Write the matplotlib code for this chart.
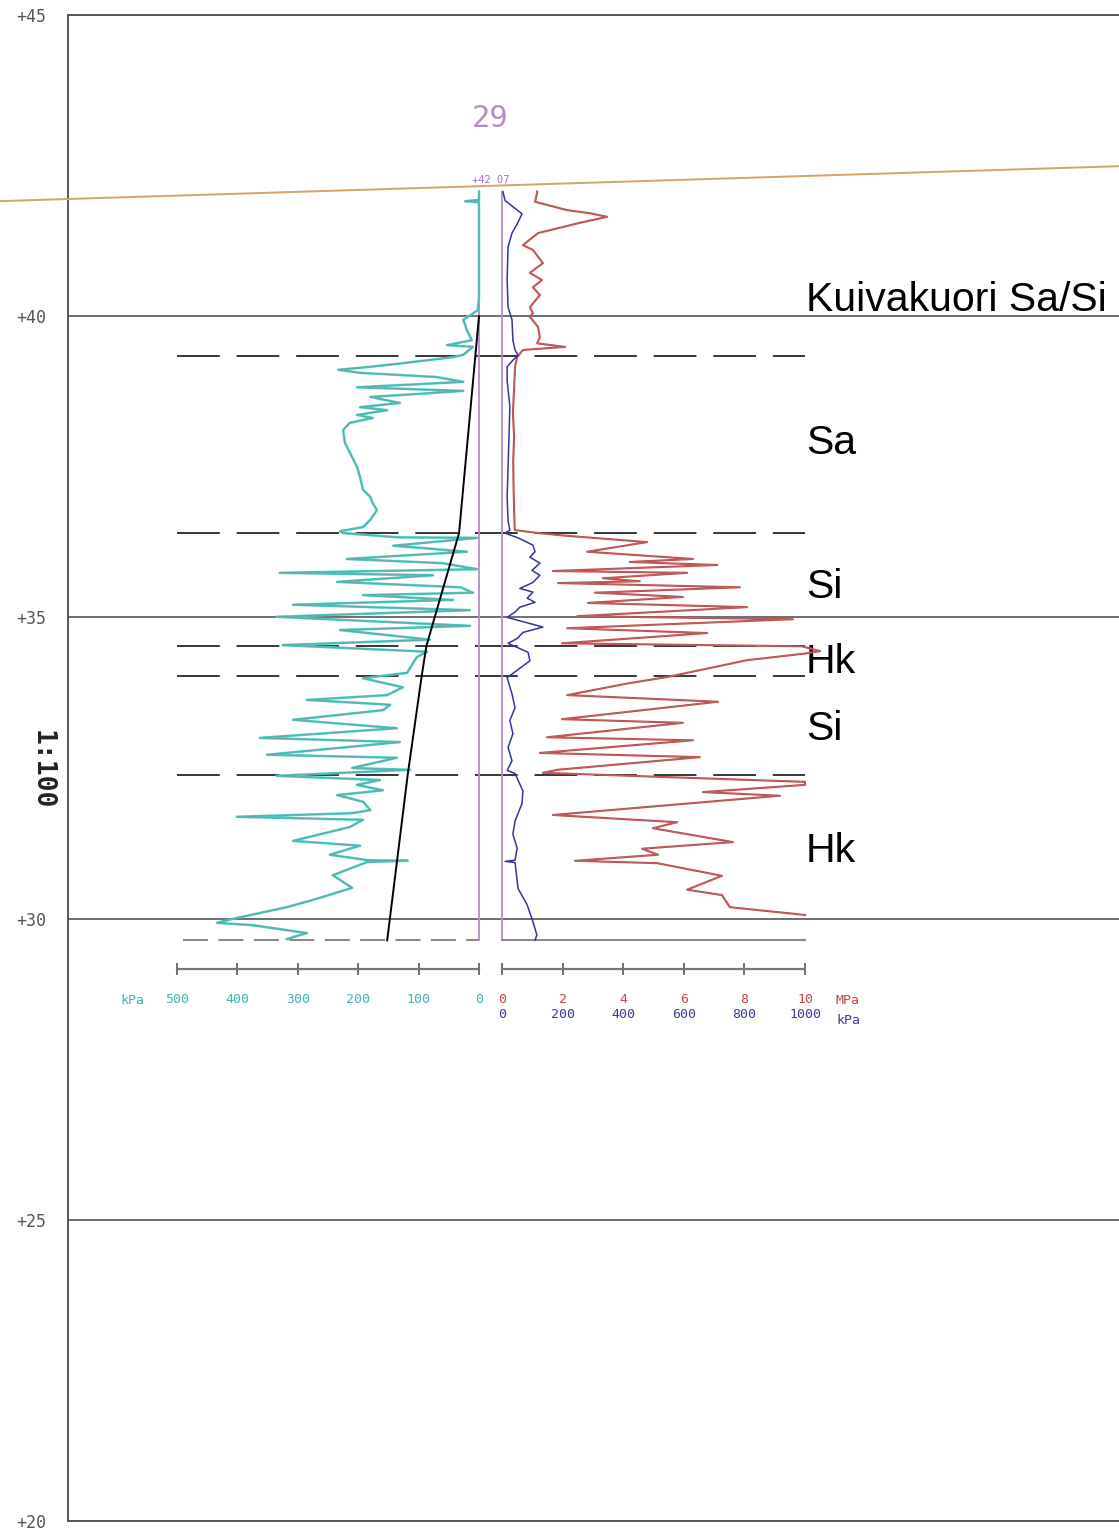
import matplotlib
matplotlib.use("Agg")
import matplotlib.pyplot as plt

# ---------------- data ----------------
site_id = "29"
ground_level = 42.07          # sounding start elevation
sounding_bottom = 29.64       # sounding end elevation
ground_x = [-1.13, 17.45]     # m along section
ground_z = [41.91, 42.49]
grid_levels = [25, 30, 35, 40]
y_ticks = [20, 25, 30, 35, 40, 45]
layer_bounds = [39.34, 36.40, 34.53, 34.02, 32.39]
layer_names = ["Kuivakuori Sa/Si", "Sa", "Si", "Hk", "Si", "Hk"]
layer_label_z = [40.27, 37.90, 35.50, 34.26, 33.15, 31.12]

cyan_ticks = [500, 400, 300, 200, 100, 0]
red_ticks = [0, 2, 4, 6, 8, 10]
blue_ticks = [0, 200, 400, 600, 800, 1000]

# in-situ stress line (kPa, cyan scale)
stress_z = [40.0, 36.40, 34.53, 34.02, 32.39, 29.64]
stress_kpa = [0, 33, 87, 95, 118, 152]

# cyan curve (kPa, plotted leftwards)
cyan_z = [42.07, 41.93, 41.91, 41.89, 40.30, 40.10, 39.94, 39.77, 39.60, 39.52, 39.49, 39.36,
          39.32, 39.22, 39.16, 39.11, 39.06, 38.99, 38.91, 38.82, 38.76, 38.69, 38.66, 38.56,
          38.49, 38.44, 38.36, 38.31, 38.23, 38.11, 37.90, 37.66, 37.50, 37.33, 37.12, 37.00,
          36.90, 36.78, 36.62, 36.50, 36.43, 36.40, 36.33, 36.32, 36.19, 36.09, 35.97, 35.90,
          35.80, 35.74, 35.70, 35.59, 35.50, 35.41, 35.37, 35.29, 35.21, 35.12, 35.01, 34.86,
          34.79, 34.63, 34.54, 34.43, 34.34, 34.08, 33.99, 33.84, 33.71, 33.63, 33.55, 33.46,
          33.30, 33.16, 33.00, 32.93, 32.72, 32.67, 32.50, 32.47, 32.37, 32.30, 32.22, 32.13,
          32.05, 31.94, 31.80, 31.75, 31.69, 31.64, 31.52, 31.29, 31.21, 31.06, 30.97, 30.96,
          30.94, 30.72, 30.51, 30.31, 30.19, 30.01, 29.93, 29.89, 29.76, 29.66]
cyan_kpa = [0, 0, 23, 0, 0, 2, 26, 20, 12, 53, 10, 26,
            43, 126, 180, 233, 197, 70, 26, 202, 26, 131, 180, 131,
            197, 152, 202, 176, 214, 225, 222, 210, 202, 197, 192, 180,
            176, 169, 180, 192, 230, 225, 136, 3, 142, 20, 219, 60,
            3, 330, 76, 235, 31, 10, 192, 43, 308, 15, 335, 15,
            230, 81, 325, 86, 103, 119, 192, 126, 152, 285, 147, 159,
            308, 136, 363, 131, 351, 136, 210, 114, 335, 164, 202, 159,
            235, 192, 180, 210, 401, 192, 214, 308, 197, 247, 185, 118,
            185, 242, 210, 275, 318, 401, 434, 374, 285, 318]

# red curve (MPa)
red_z = [42.07, 42.05, 41.90, 41.76, 41.71, 41.65, 41.55, 41.38, 41.18, 41.10, 40.88, 40.72,
         40.60, 40.48, 40.35, 40.15, 40.05, 39.99, 39.82, 39.65, 39.55, 39.49, 39.44, 39.32,
         39.16, 38.80, 38.40, 38.00, 37.60, 37.20, 36.80, 36.45, 36.40, 36.36, 36.25, 36.09,
         35.97, 35.92, 35.87, 35.77, 35.74, 35.65, 35.60, 35.57, 35.50, 35.41, 35.34, 35.24,
         35.17, 35.02, 34.97, 34.82, 34.74, 34.57, 34.52, 34.44, 34.40, 34.29, 34.01, 33.91,
         33.71, 33.60, 33.31, 33.25, 33.01, 32.96, 32.75, 32.68, 32.47, 32.42, 32.27, 32.22,
         32.10, 32.04, 31.72, 31.60, 31.50, 31.27, 31.16, 31.06, 30.96, 30.92, 30.71, 30.48,
         30.39, 30.19, 30.06]
red_mpa = [1.16, 1.16, 1.09, 2.15, 2.90, 3.47, 2.57, 1.19, 0.69, 1.02, 1.35, 0.92,
           1.32, 1.02, 1.25, 0.92, 1.02, 0.92, 1.19, 1.25, 1.16, 2.08, 0.69, 0.50,
           0.43, 0.40, 0.36, 0.40, 0.37, 0.38, 0.40, 0.42, 1.20, 2.00, 4.79, 2.81,
           6.30, 4.22, 7.10, 1.68, 6.11, 3.33, 4.55, 1.85, 7.85, 3.07, 5.97, 2.84,
           8.09, 2.48, 9.60, 2.15, 6.77, 1.98, 9.90, 10.50, 10.00, 8.09, 5.45, 4.22,
           2.15, 7.13, 1.98, 5.97, 1.49, 6.30, 1.25, 6.53, 1.82, 1.35, 10.0, 10.0,
           6.63, 9.17, 1.68, 5.78, 4.98, 7.62, 4.62, 5.15, 2.41, 5.12, 7.26, 6.11,
           7.26, 7.52, 10.0]

# blue curve (kPa)
blue_z = [42.07, 41.92, 41.70, 41.53, 41.38, 41.15, 40.60, 40.15, 39.94, 39.60, 39.44, 39.35,
          39.27, 39.16, 38.93, 38.50, 38.00, 37.50, 37.00, 36.60, 36.45, 36.40, 36.32, 36.20,
          36.09, 36.00, 35.90, 35.78, 35.70, 35.58, 35.48, 35.42, 35.32, 35.25, 35.17, 35.09,
          35.00, 34.84, 34.75, 34.65, 34.57, 34.42, 34.28, 34.07, 34.00, 33.73, 33.50, 33.29,
          33.07, 32.84, 32.62, 32.46, 32.41, 32.12, 31.91, 31.62, 31.40, 31.17, 30.97, 30.95,
          30.93, 30.50, 30.23, 29.95, 29.73, 29.64]
blue_kpa = [3, 10, 66, 50, 33, 20, 17, 20, 33, 36, 43, 53,
            36, 17, 17, 26, 23, 20, 17, 20, 26, 10, 53, 102,
            109, 92, 125, 99, 125, 102, 59, 102, 83, 109, 59, 43,
            17, 135, 69, 50, 20, 86, 92, 36, 17, 33, 43, 26,
            36, 20, 33, 17, 43, 69, 66, 43, 36, 50, 43, 10,
            43, 53, 83, 102, 115, 109]

# ---------------- style / layout ----------------
W, H, DPI = 1119, 1533, 100
CYAN = "#4cc8c0"
RED = "#c84848"
BLUE = "#3434a0"
PURPLE = "#b48cc8"
GREY = "#555555"
MONO = ["DejaVu Sans Mono"]
SANS = ["Liberation Sans", "DejaVu Sans"]

fig = plt.figure(figsize=(W / DPI, H / DPI), dpi=DPI)


def rect(l, t, r, b):
    return [l / W, 1 - b / H, (r - l) / W, (b - t) / H]


PX_M = (1521 - 15) / 25.0
ax = fig.add_axes(rect(68, 15, 1119, 1521))
ax.set_ylim(20, 45)
ax.set_xlim(0, (1119 - 68) / PX_M)
ax.set_facecolor("white")
for s in ["left", "top", "bottom"]:
    ax.spines[s].set_color(GREY)
    ax.spines[s].set_linewidth(1.4)
ax.spines["right"].set_visible(False)
ax.set_xticks([])
ax.set_yticks(y_ticks)
ax.set_yticklabels([f"+{v}" for v in y_ticks], family=MONO, fontsize=12, color="#555555")
ax.tick_params(axis="y", length=0, pad=16)
for g in grid_levels:
    ax.axhline(g, color=GREY, lw=1.2, zorder=1)

# track positions in section metres
c_left, c_right = (177 - 68) / PX_M, (479 - 68) / PX_M
r_left, r_right = (502 - 68) / PX_M, (805 - 68) / PX_M
label_x = (806 - 68) / PX_M

# ground surface
ax.plot(ground_x, ground_z, color="#d2a468", lw=1.4, clip_on=False, zorder=3)

# layer boundaries
ax.hlines(layer_bounds, c_left, r_right, colors="black", lw=1.1,
          linestyles=[(0, (28, 11))], zorder=4)

# layer names
for name, z in zip(layer_names, layer_label_z):
    ax.text(label_x, z, name, family=SANS, fontsize=29.5, va="center", ha="left", color="black")

# site id + level
mid = (c_right + r_left) / 2
ax.text(mid, 43.29, site_id, family=MONO, fontsize=22, color=PURPLE, ha="center", va="center")
ax.text(mid, 42.26, f"+{ground_level:.2f}".replace(".", " "), family=MONO, fontsize=7.5,
        color="#a070b8", ha="center", va="center")

fig.text(42 / W, 1 - 770 / H, "1:100", family=MONO, fontsize=19, fontweight="bold",
         rotation=270, ha="center", va="center", color="#222222")

# ---------------- tracks ----------------
z_bot = 45 - (969 - 15) / PX_M
axc = fig.add_axes(rect(177, 15, 479, 969))
axr = fig.add_axes(rect(502, 15, 805, 969))
for a in (axc, axr):
    a.set_facecolor("none")
    a.set_ylim(z_bot, 45)
    a.set_yticks([])
    for s in ["left", "top", "right"]:
        a.spines[s].set_visible(False)
    a.spines["bottom"].set_color("#777777")
    a.spines["bottom"].set_linewidth(1.6)
    a.tick_params(axis="x", direction="inout", length=9, width=1.2, color=GREY,
                  labelsize=9.5, pad=13)
axc.set_xlim(500, 0)
axr.set_xlim(0, 10)
axc.set_xticks(cyan_ticks)
axc.set_xticklabels([str(v) for v in cyan_ticks], family=MONO, color="#40b4b0")
axr.set_xticks(red_ticks)
axr.set_xticklabels([str(v) for v in red_ticks], family=MONO, color="#c04848")

axb = axr.twiny()
axb.set_facecolor("none")
axb.set_xlim(0, 1000)
axb.xaxis.set_ticks_position("bottom")
axb.set_xticks(blue_ticks)
axb.set_xticklabels([str(v) for v in blue_ticks], family=MONO, color="#3a3a98")
axb.tick_params(axis="x", length=0, labelsize=9.5, pad=28)
for s in axb.spines.values():
    s.set_visible(False)

fig.text(133 / W, 1 - 1000 / H, "kPa", family=MONO, fontsize=9.5, color="#40b4b0",
         ha="center", va="center")
fig.text(848 / W, 1 - 1000 / H, "MPa", family=MONO, fontsize=9.5, color="#c04848",
         ha="center", va="center")
fig.text(848 / W, 1 - 1020 / H, "kPa", family=MONO, fontsize=9.5, color="#3a3a98",
         ha="center", va="center")

# zero lines of the tracks
axc.plot([0, 0], [ground_level, sounding_bottom], color=PURPLE, lw=1.3, clip_on=False)
axr.plot([0, 0], [ground_level, sounding_bottom], color=PURPLE, lw=1.3, clip_on=False)

# sounding end line
axc.plot([490, 0], [sounding_bottom, sounding_bottom], color="#8a8a8a", lw=1.5,
         ls=(0, (12, 5)), clip_on=False)
axr.plot([0, 10], [sounding_bottom, sounding_bottom], color="#8a8a8a", lw=1.5, clip_on=False)

# curves
axc.plot(cyan_kpa, cyan_z, color=CYAN, lw=1.8, clip_on=False, zorder=3)
axc.plot(cyan_kpa, cyan_z, color="#7a9090", lw=0.5, alpha=0.7, clip_on=False, zorder=3)
axc.plot(stress_kpa, stress_z, color="black", lw=1.4, clip_on=False, zorder=4)
axr.plot(red_mpa, red_z, color=RED, lw=1.5, clip_on=False, zorder=3)
axr.plot(red_mpa, red_z, color="#a08080", lw=0.5, alpha=0.7, clip_on=False, zorder=3)
axb.plot(blue_kpa, blue_z, color=BLUE, lw=1.1, clip_on=False, zorder=3)

fig.savefig("out.png", dpi=DPI)
